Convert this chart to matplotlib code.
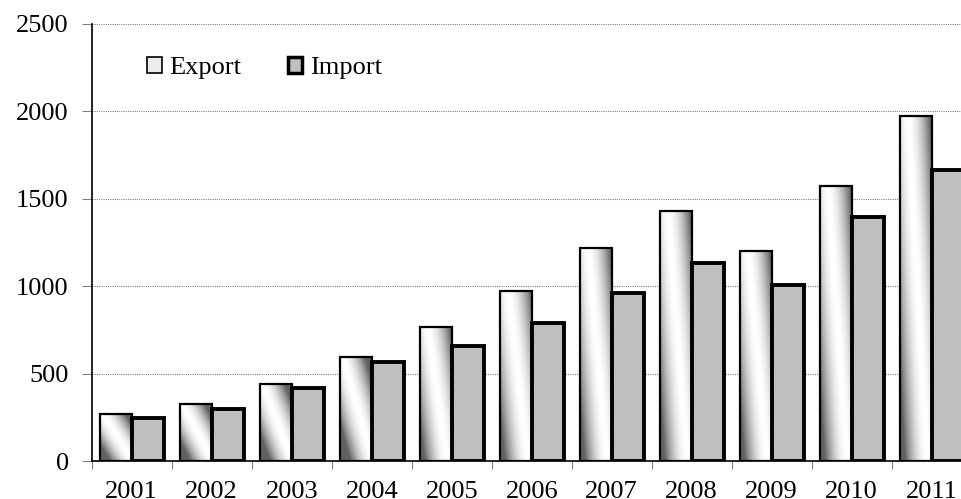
import numpy as np
import matplotlib.pyplot as plt
from matplotlib.patches import Patch

years = ["2001", "2002", "2003", "2004", "2005", "2006", "2007", "2008", "2009", "2010", "2011"]
export = [270, 325, 440, 595, 765, 970, 1220, 1430, 1200, 1575, 1975]
imports = [245, 295, 415, 565, 660, 790, 960, 1135, 1005, 1395, 1665]
yticks = [0, 500, 1000, 1500, 2000, 2500]

plt.rcParams['font.family'] = ['Liberation Serif', 'DejaVu Serif']

fig = plt.figure(figsize=(9.62, 4.99), dpi=100)
# axes runs past the right edge of the figure, as in the reference
ax = fig.add_axes([91.7 / 962, 38 / 499, 880 / 962, 437 / 499])

x = np.arange(len(years))
w = 0.4

# gradient for export bars (dark bottom-left / top-right, white diagonal)
nx, ny = 64, 256
u = np.linspace(0, 1, nx)[None, :]
v = np.linspace(0, 1, ny)[:, None]

ex_bars = ax.bar(x - w / 2, export, w, facecolor='none', edgecolor='black',
                 linewidth=1.6, zorder=4)
for b in ex_bars:
    x0, h = b.get_x(), b.get_height()
    a = 0.6 if h > 600 else 0.95
    s = (u - 0.55) + a * (v - 0.5)
    val = 1 - 0.62 * np.clip(np.abs(s) / 0.7, 0, 1) ** 1.8
    im = ax.imshow(val, cmap='gray', vmin=0, vmax=1, origin='lower',
                   extent=(x0, x0 + w, 0, h), aspect='auto', zorder=3,
                   interpolation='bilinear')
    im.set_clip_path(b)

ax.bar(x + w / 2, imports, w, color='#bfbfbf', edgecolor='black',
       linewidth=2.8, zorder=4)

ax.set_xlim(-0.5, len(years) - 0.5)
ax.set_ylim(0, 2500)
ax.set_aspect('auto')

ax.set_yticks(yticks)
ax.set_yticklabels([str(t) for t in yticks], fontsize=19)
ax.yaxis.grid(True, linestyle=(0, (1, 1)), color='#808080', linewidth=0.8)
ax.set_axisbelow(True)

# ticks at category boundaries, labels at centers
ax.set_xticks(np.arange(len(years) + 1) - 0.5)
ax.set_xticklabels([])
ax.set_xticks(x, minor=True)
ax.set_xticklabels(years, minor=True, fontsize=19)
ax.tick_params(axis='x', which='major', length=6, color='#808080', direction='out')
ax.tick_params(axis='x', which='minor', length=0, pad=14.5)
ax.tick_params(axis='y', length=7, color='#808080', pad=9.5)

for side in ['top', 'right']:
    ax.spines[side].set_visible(False)
ax.spines['left'].set_linewidth(1.2)
ax.spines['bottom'].set_linewidth(1.2)

handles = [Patch(facecolor='#ececec', edgecolor='black', linewidth=1.2, label='Export'),
           Patch(facecolor='#bfbfbf', edgecolor='black', linewidth=2.5, label='Import')]
ax.legend(handles=handles, loc='upper left', bbox_to_anchor=(0.036, 0.979), ncol=2,
          frameon=False, fontsize=19, handlelength=0.55, handleheight=0.55,
          handletextpad=0.3, columnspacing=1.75)

fig.savefig('out.png', dpi=100)
